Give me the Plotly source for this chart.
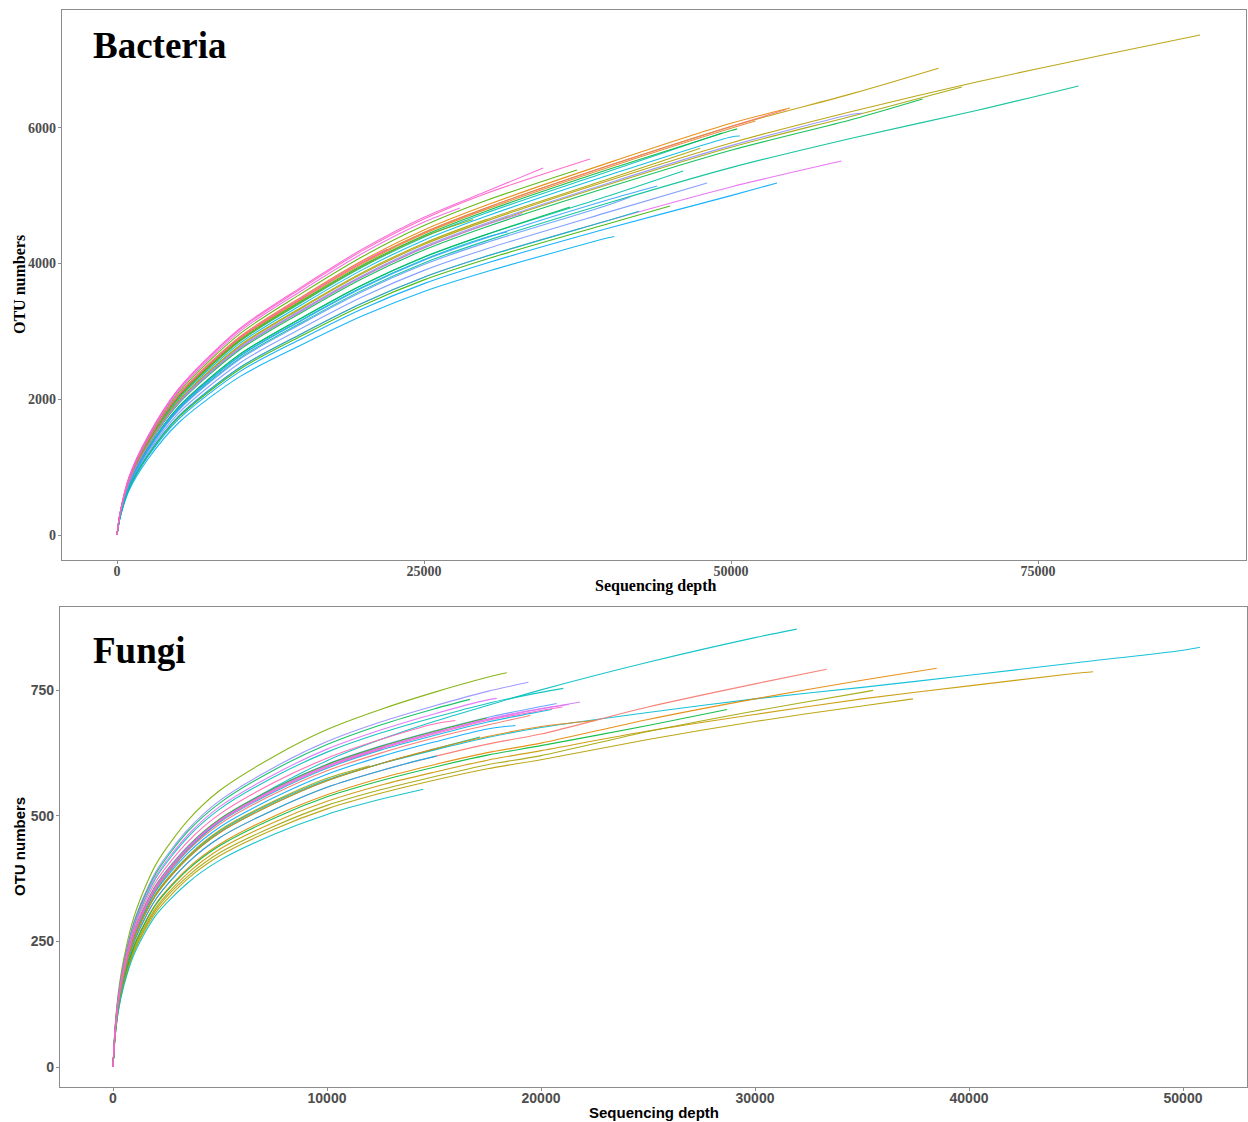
import plotly.graph_objects as go

# ---------------- Bacteria (top panel) ----------------
BACT_GRID = [0, 250, 1000, 2500, 5000, 10000, 15000, 20000, 25000, 30000,
             40000, 50000, 60000, 70000, 80000]

BACT_END_DEPTH = [88200, 66900, 68800, 78300, 65600, 60700, 59000, 53750,
                  54800, 49270, 50730, 46100, 48050, 41780, 45040, 36890,
                  31760, 54500, 52000, 50500, 47500, 44000, 29000, 33000,
                  40500, 42500, 37460, 38520, 34700, 27930, 22000]
BACT_END_OTU = [7369, 6880, 6603, 6618, 6426, 6215, 5512, 5188,
                6293, 5925, 5880, 5365, 5188, 4982, 4849, 4834,
                4466, 6270, 6100, 5985, 5700, 5144, 4650, 4738,
                4400, 4770, 5380, 5542, 5409, 4820, 4210]
BACT_OTU = [
    [0, 300, 792, 1327, 1969, 2782, 3338, 3852, 4280, 4622, 5222, 5778, 6249, 6677, 7062],
    [0, 312, 825, 1383, 2052, 2899, 3479, 4014, 4460, 4817, 5441, 6021, 6512],
    [0, 296, 783, 1312, 1947, 2751, 3302, 3810, 4233, 4572, 5164, 5715, 6180],
    [0, 281, 742, 1243, 1845, 2607, 3128, 3609, 4010, 4331, 4892, 5414, 5855, 6256],
    [0, 294, 777, 1302, 1932, 2730, 3276, 3780, 4200, 4536, 5124, 5670, 6132],
    [0, 298, 786, 1318, 1955, 2763, 3315, 3825, 4250, 4590, 5185, 5738, 6205],
    [0, 266, 703, 1178, 1748, 2470, 2964, 3420, 3800, 4104, 4636, 5130],
    [0, 259, 685, 1149, 1704, 2408, 2890, 3335, 3705, 4001, 4520, 5002],
    [0, 315, 832, 1393, 2068, 2922, 3506, 4046, 4495, 4855, 5484, 6068],
    [0, 307, 812, 1361, 2019, 2854, 3424, 3951, 4390, 4741, 5356],
    [0, 304, 804, 1347, 1999, 2824, 3389, 3911, 4345, 4693, 5301, 5866],
    [0, 287, 758, 1269, 1884, 2662, 3194, 3686, 4095, 4423, 4996],
    [0, 273, 722, 1209, 1794, 2535, 3042, 3510, 3900, 4212, 4758],
    [0, 279, 737, 1236, 1834, 2591, 3109, 3587, 3986, 4305, 4863],
    [0, 263, 696, 1166, 1730, 2444, 2933, 3384, 3760, 4061, 4587],
    [0, 287, 758, 1270, 1885, 2663, 3196, 3687, 4097, 4425],
    [0, 284, 751, 1259, 1868, 2639, 3167, 3654, 4060, 4385],
    [0, 312, 825, 1383, 2052, 2899, 3479, 4014, 4460, 4817, 5441, 6021],
    [0, 311, 821, 1376, 2042, 2886, 3463, 3996, 4440, 4795, 5417, 5994],
    [0, 309, 817, 1369, 2031, 2870, 3444, 3974, 4415, 4768, 5386, 5960],
    [0, 301, 796, 1333, 1978, 2795, 3354, 3870, 4300, 4644, 5246],
    [0, 284, 749, 1256, 1863, 2633, 3159, 3645, 4050, 4374, 4941],
    [0, 308, 814, 1364, 2024, 2860, 3432, 3960, 4400],
    [0, 296, 783, 1311, 1946, 2750, 3299, 3807, 4230, 4568],
    [0, 251, 664, 1113, 1651, 2334, 2800, 3231, 3590, 3877, 4380],
    [0, 266, 703, 1178, 1748, 2470, 2964, 3420, 3800, 4104, 4636],
    [0, 319, 844, 1414, 2098, 2964, 3557, 4104, 4560, 4925],
    [0, 326, 862, 1444, 2142, 3027, 3632, 4191, 4657, 5030],
    [0, 328, 866, 1452, 2154, 3044, 3653, 4215, 4683, 5058],
    [0, 323, 853, 1430, 2122, 2998, 3597, 4151, 4612],
    [0, 314, 829, 1389, 2061, 2912, 3494, 4032],
]
BACT_COLORS = ["#B79F00", "#BB9D00", "#A3A500", "#00C094", "#00BB4E", "#9590FF",
               "#E76BF3", "#00A9FF", "#E58700", "#00BFC4", "#00B8E7", "#00C1A3",
               "#7997FF", "#619CFF", "#39B600", "#00BD5C", "#00BFC4", "#F8766D",
               "#EA8331", "#00BA38", "#ABA300", "#35A2FF", "#7CAE00", "#C77CFF",
               "#00B0F6", "#00C0B8", "#53B400", "#FF61C3", "#FB61D7", "#F564E3",
               "#FF62BC"]

# ---------------- Fungi (bottom panel) ----------------
FUNGI_GRID = [0, 100, 250, 500, 1000, 2000, 3500, 5000, 7500, 10000, 12500,
              15000, 17500, 20000, 25000, 30000, 35000, 40000, 45000, 50000]

FUNGI_END_DEPTH = [31950, 50790, 33350, 38490, 45800, 28700, 35520, 37380,
                   18400, 19410, 21040, 21820, 20730, 20500, 16680, 17460,
                   15120, 14500, 17150, 22500, 18800, 12000, 19500, 21000,
                   21300, 17930, 16000]
FUNGI_END_OTU = [872, 836, 792, 794, 787, 712, 750, 733,
                 785, 766, 754, 727, 724, 712, 732, 695,
                 619, 553, 657, 690, 680, 600, 700, 717,
                 722, 734, 690]
FUNGI_OTU = [
    [0, 70, 128, 186, 262, 352, 432, 490, 556, 610, 652, 688, 720, 751, 806, 855],
    [0, 69, 126, 183, 258, 344, 418, 470, 527, 572, 604, 631, 656, 676, 706, 733, 756, 780, 805, 830],
    [0, 67, 123, 178, 251, 334, 407, 457, 512, 557, 590, 618, 643, 663, 717, 763],
    [0, 65, 119, 173, 244, 325, 396, 444, 499, 542, 575, 602, 626, 645, 692, 733, 770],
    [0, 63, 116, 169, 238, 317, 386, 434, 487, 529, 561, 587, 611, 630, 669, 702, 733, 759, 784],
    [0, 65, 118, 172, 242, 323, 393, 441, 495, 538, 570, 597, 621, 640, 680],
    [0, 63, 115, 167, 234, 313, 380, 427, 479, 521, 552, 578, 602, 620, 668, 709, 746],
    [0, 62, 113, 164, 231, 308, 375, 421, 473, 514, 545, 571, 594, 612, 652, 688, 719],
    [0, 81, 148, 215, 302, 403, 491, 551, 618, 672, 712, 746, 776],
    [0, 78, 143, 207, 292, 389, 473, 531, 596, 648, 687, 719, 748],
    [0, 75, 138, 201, 282, 376, 458, 514, 577, 627, 665, 696, 724, 746],
    [0, 72, 132, 192, 270, 359, 437, 491, 551, 599, 635, 665, 692, 713],
    [0, 72, 133, 193, 271, 362, 440, 494, 555, 603, 639, 669, 696, 718],
    [0, 71, 131, 190, 268, 357, 434, 488, 547, 595, 631, 660, 687, 708],
    [0, 77, 141, 205, 289, 385, 469, 526, 591, 642, 681, 713],
    [0, 72, 132, 193, 271, 361, 439, 494, 554, 602, 638, 668],
    [0, 67, 123, 178, 251, 334, 407, 457, 512, 557, 590, 618],
    [0, 60, 111, 161, 226, 302, 367, 412, 463, 503, 533],
    [0, 68, 125, 182, 257, 342, 416, 467, 524, 570, 604, 633],
    [0, 68, 125, 182, 257, 342, 416, 467, 524, 570, 604, 633, 658, 678],
    [0, 70, 128, 187, 262, 350, 426, 478, 536, 583, 618, 647, 673],
    [0, 69, 127, 184, 259, 345, 420, 472, 529, 575],
    [0, 71, 130, 189, 266, 354, 431, 484, 543, 590, 625, 655, 681],
    [0, 72, 131, 191, 269, 358, 436, 490, 549, 597, 633, 663, 690, 710],
    [0, 72, 132, 192, 270, 360, 438, 492, 552, 600, 636, 666, 693, 714],
    [0, 76, 139, 203, 285, 380, 462, 519, 582, 633, 671, 703, 731],
    [0, 74, 135, 197, 277, 369, 449, 504, 566, 615, 652, 683],
]
FUNGI_COLORS = ["#00BFC4", "#00BCD6", "#F8766D", "#E58700", "#C99800", "#00BA38",
                "#A3A500", "#B79F00", "#7CAE00", "#9590FF", "#00C0B8", "#C77CFF",
                "#619CFF", "#00B8E7", "#00BD5C", "#39B600", "#00B0F6", "#00BFC4",
                "#00BF7D", "#E68613", "#00A9FF", "#AEA200", "#F8766D", "#FF61C3",
                "#E76BF3", "#DB72FB", "#FF64B0"]

BACT_XTICKS = [0, 25000, 50000, 75000]
BACT_YTICKS = [0, 2000, 4000, 6000]
FUNGI_XTICKS = [0, 10000, 20000, 30000, 40000, 50000]
FUNGI_YTICKS = [0, 250, 500, 750]

fig = go.Figure()


def add_curves(grid, ends_x, ends_y, vals, colors, xa, ya):
    for ex, ey, v, c in zip(ends_x, ends_y, vals, colors):
        xs = [g for g in grid if g < ex][:len(v)]
        ys = list(v[:len(xs)])
        xs = xs + [ex]
        ys = ys + [ey]
        fig.add_trace(go.Scatter(
            x=xs, y=ys, mode="lines", xaxis=xa, yaxis=ya,
            line=dict(color=c, width=1.1, shape="spline", smoothing=0.8),
            opacity=0.9, showlegend=False, hoverinfo="skip"))


add_curves(BACT_GRID, BACT_END_DEPTH, BACT_END_OTU, BACT_OTU, BACT_COLORS, "x", "y")
add_curves(FUNGI_GRID, FUNGI_END_DEPTH, FUNGI_END_OTU, FUNGI_OTU, FUNGI_COLORS, "x2", "y2")

W, H = 1248, 1122
SERIF = "Liberation Serif, Times New Roman, serif"
SANS = "Liberation Sans, Arial, sans-serif"


def axis_common(font, standoff):
    return dict(showline=True, mirror=True, linecolor="#8c8c8c", linewidth=1.3,
                ticks="outside", ticklen=3, tickcolor="#8c8c8c", tickwidth=1,
                showgrid=False, zeroline=False, ticklabelstandoff=standoff,
                tickfont=dict(family=font, size=14, color="#4d4d4d", weight="bold"))


fig.update_layout(
    width=W, height=H,
    margin=dict(l=0, r=0, t=0, b=0),
    paper_bgcolor="white", plot_bgcolor="white",
    xaxis=dict(domain=[62 / W, 1246 / W], anchor="y", range=[-4479, 91938],
               tickvals=BACT_XTICKS, ticktext=[str(t) for t in BACT_XTICKS],
               **axis_common(SERIF, -5)),
    yaxis=dict(domain=[1 - 560 / H, 1 - 10 / H], anchor="x", range=[-368, 7737],
               tickvals=BACT_YTICKS, ticktext=[str(t) for t in BACT_YTICKS],
               **axis_common(SERIF, -1)),
    xaxis2=dict(domain=[60 / W, 1247 / W], anchor="y2", range=[-2477, 52990],
                tickvals=FUNGI_XTICKS, ticktext=[str(t) for t in FUNGI_XTICKS],
                **axis_common(SANS, -5)),
    yaxis2=dict(domain=[1 - 1087 / H, 1 - 607 / H], anchor="x2", range=[-39.8, 916],
                tickvals=FUNGI_YTICKS, ticktext=[str(t) for t in FUNGI_YTICKS],
                **axis_common(SANS, -1)),
)


def px_ann(text, x, y, font, size, angle=0, xanchor="center"):
    fig.add_annotation(text=text, xref="paper", yref="paper",
                       x=x / W, y=1 - y / H, showarrow=False, textangle=angle,
                       xanchor=xanchor, yanchor="middle",
                       font=dict(family=font, size=size, color="black", weight="bold"))


px_ann("Bacteria", 91, 45, SERIF, 37, xanchor="left")
px_ann("Fungi", 91, 650, SERIF, 37, xanchor="left")
px_ann("Sequencing depth", 655, 586, SERIF, 16)
px_ann("OTU numbers", 19, 285, SERIF, 16, angle=-90)
px_ann("Sequencing depth", 654, 1112, SANS, 15)
px_ann("OTU numbers", 19, 847, SANS, 15, angle=-90)

fig.write_html("out.html")
